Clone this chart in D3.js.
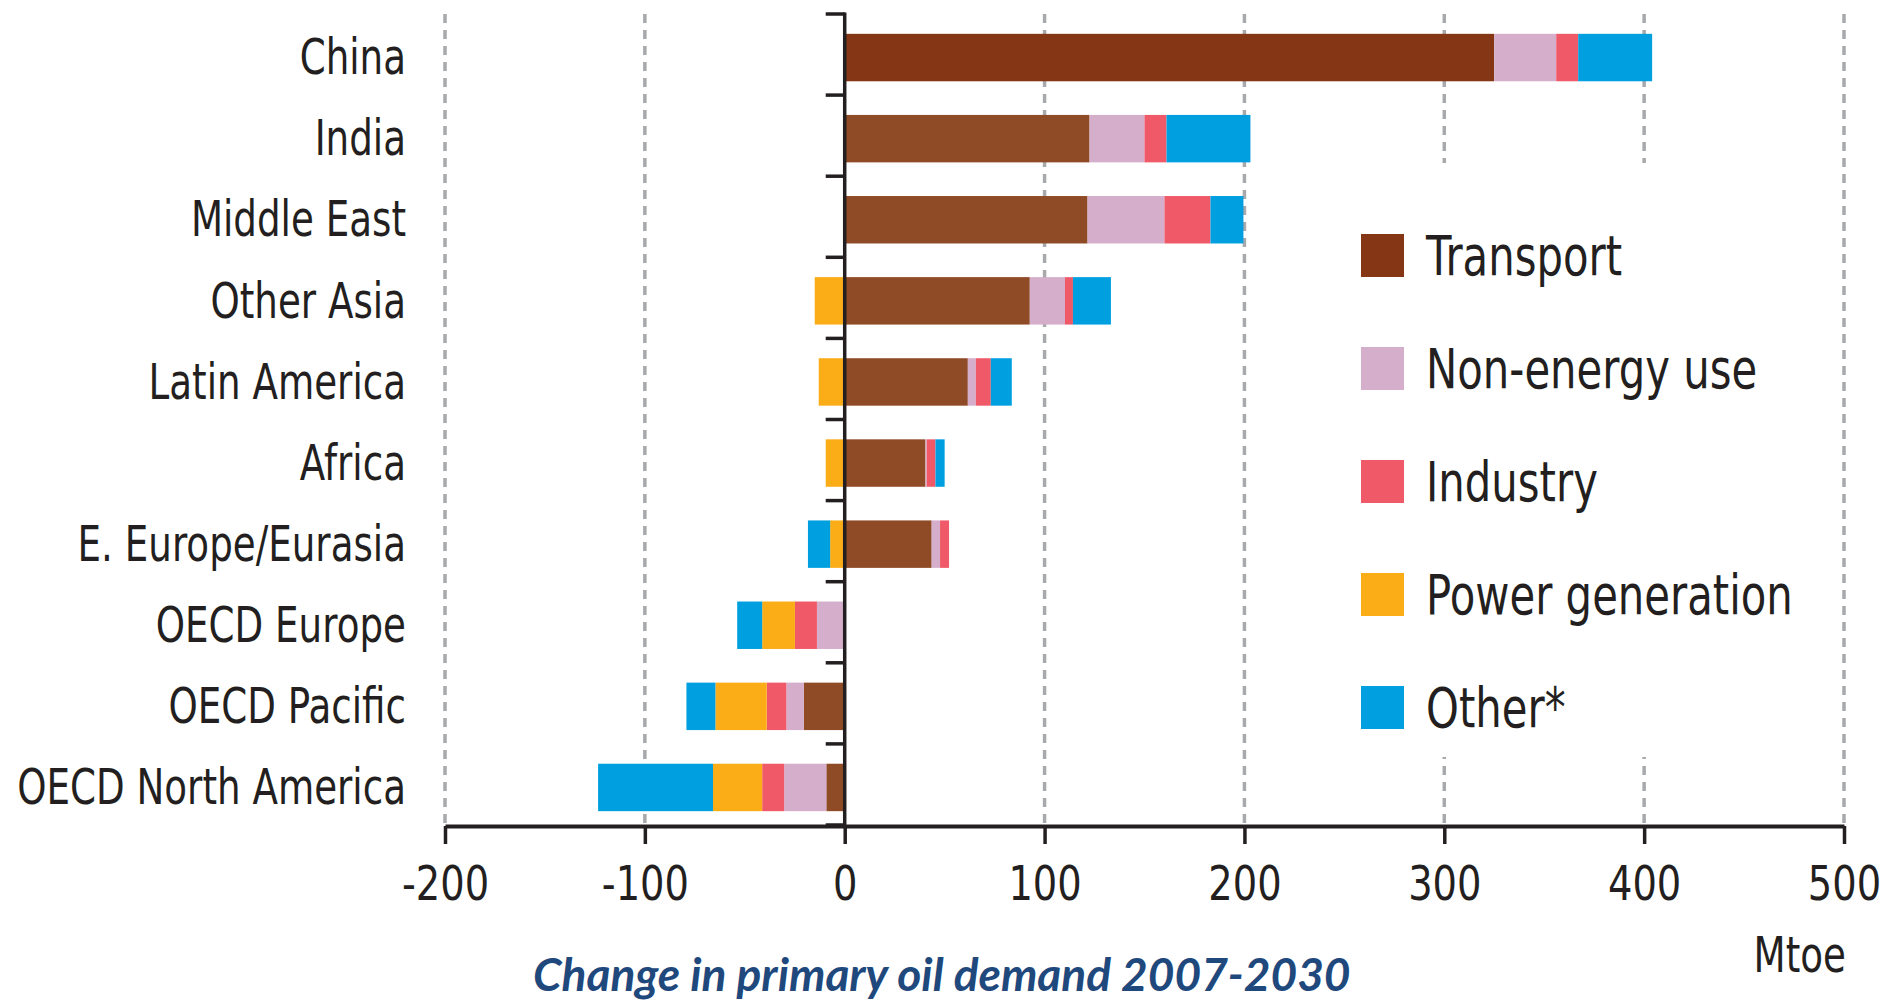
<!DOCTYPE html>
<html>
<head>
<meta charset="utf-8">
<script src="https://cdn.jsdelivr.net/npm/d3@7"></script>
<style>
  body { margin: 0; background: #fff; }
  svg { display: block; }
  text { font-family: "DejaVu Sans", sans-serif; fill: #231f20; }
  .grid line { stroke: #a7a9ac; stroke-width: 3.5px; stroke-dasharray: 9 7; }
  .title { font-family: Lato, "Open Sans", sans-serif; font-weight: 700; font-style: italic; fill: #1f497d; }
</style>
</head>
<body>
<svg id="chart" width="1885" height="1000"></svg>
<script>
// change in primary oil demand 2007-2030, Mtoe
const regions = ["China", "India", "Middle East", "Other Asia", "Latin America", "Africa",
  "E. Europe/Eurasia", "OECD Europe", "OECD Pacific", "OECD North America"];
const sectors = ["Transport", "Non-energy use", "Industry", "Power generation", "Other*"];
const transport = [325, 122.5, 121.5, 92.6, 61.6, 40.4, 43.5, 0, -20.5, -9.2];
const nonEnergy = [31, 27.5, 38.5, 17.6, 4, 0.6, 4.2, -13.9, -8.7, -21.1];
const industry = [11, 11, 23, 4, 7.5, 4.4, 4.5, -11, -9.8, -11];
const powerGen = [0, 0, 0, -15, -13, -9.5, -7.3, -16.4, -25.7, -24.6];
const other = [37, 42, 16.5, 19, 10.5, 4.6, -11.1, -12.5, -14.5, -57.5];
const xTicks = [-200, -100, 0, 100, 200, 300, 400, 500];

const colors = ["#8f4b26", "#d4aecb", "#f05a68", "#fbad18", "#00a0e0"];
const transportDark = "#853615";
const squeeze = 0.76; // the original face is a condensed sans

const series = [transport, nonEnergy, industry, powerGen, other];
const table = regions.map((r, i) => {
  const row = { region: r };
  sectors.forEach((s, j) => { row[s] = series[j][i]; });
  return row;
});

const svg = d3.select("#chart");
const yTop = 14, yBottom = 825;

const x = d3.scaleLinear().domain([-200, 500]).range([445, 1844]);
const y = d3.scaleBand().domain(regions).range([yTop, yBottom])
  .paddingInner(0.415).paddingOuter(0.2075);
const color = d3.scaleOrdinal().domain(sectors).range(colors);

// dashed gridlines
svg.append("g").attr("class", "grid")
  .selectAll("line")
  .data(xTicks.filter(d => d !== 0))
  .join("line")
  .attr("x1", d => x(d)).attr("x2", d => x(d))
  .attr("y1", yTop).attr("y2", yBottom);

// white box behind the legend hides part of the grid
svg.append("rect")
  .attr("x", 1290).attr("y", 163)
  .attr("width", 530).attr("height", 594)
  .attr("fill", "#fff");

// stacked bars
const stacked = d3.stack().keys(sectors).offset(d3.stackOffsetDiverging)(table);

svg.append("g")
  .attr("transform", "translate(0,3)")
  .selectAll("g")
  .data(stacked)
  .join("g")
  .each(function (layer) {
    d3.select(this).selectAll("rect")
      .data(layer)
      .join("rect")
      .attr("x", d => x(Math.min(d[0], d[1])))
      .attr("width", d => Math.abs(x(d[1]) - x(d[0])))
      .attr("y", d => y(d.data.region))
      .attr("height", y.bandwidth())
      .attr("fill", d => (layer.key === "Transport" && d.data.region === "China") ? transportDark : color(layer.key));
  });

// y axis at zero with ticks between the categories
const yAxis = svg.append("g").attr("stroke", "#231f20");
yAxis.append("line")
  .attr("x1", x(0)).attr("x2", x(0))
  .attr("y1", yTop - 1.5).attr("y2", yBottom)
  .attr("stroke-width", 3.5);
yAxis.selectAll(".tick")
  .data(d3.range(regions.length + 1))
  .join("line")
  .attr("x1", x(0) - 19).attr("x2", x(0))
  .attr("y1", i => yTop + i * y.step())
  .attr("y2", i => yTop + i * y.step())
  .attr("stroke-width", 3.5);

// category labels
svg.append("g")
  .selectAll("text")
  .data(regions)
  .join("text")
  .attr("transform", d => "translate(406," + (y(d) + y.bandwidth() / 2 + 3) + ") scale(" + squeeze + ",1)")
  .attr("dy", "0.34em")
  .attr("text-anchor", "end")
  .style("font-size", "49px")
  .text(d => d);

// x axis (plain hyphen for negatives, as in the original)
const xAxis = svg.append("g")
  .attr("transform", "translate(0," + (yBottom + 1) + ")")
  .call(d3.axisBottom(x).tickValues(xTicks).tickFormat(d => String(d))
    .tickSize(18).tickSizeOuter(0).tickPadding(22));
xAxis.select(".domain").attr("stroke", "#231f20").attr("stroke-width", 4);
xAxis.selectAll(".tick line").attr("stroke", "#231f20").attr("stroke-width", 3.5);
xAxis.selectAll(".tick text")
  .attr("fill", "#231f20")
  .attr("transform", "scale(0.8,1)")
  .style("font-family", "'DejaVu Sans', sans-serif")
  .style("font-size", "48px");

svg.append("text")
  .attr("transform", "translate(1846,972) scale(" + squeeze + ",1)")
  .attr("text-anchor", "end")
  .style("font-size", "49px")
  .text("Mtoe");

// legend
const legend = svg.append("g")
  .selectAll("g")
  .data(sectors)
  .join("g")
  .attr("transform", (d, i) => "translate(1361," + (234 + i * 113) + ")");
legend.append("rect")
  .attr("width", 43).attr("height", 43)
  .attr("fill", d => d === "Transport" ? transportDark : color(d));
legend.append("text")
  .attr("transform", "translate(65,21.5) scale(" + squeeze + ",1)")
  .attr("dy", "0.36em")
  .style("font-size", "55px")
  .text(d => d);

svg.append("text")
  .attr("class", "title")
  .attr("x", 533).attr("y", 991)
  .style("font-size", "46px")
  .text("Change in primary oil demand 2007-2030");
</script>
</body>
</html>
